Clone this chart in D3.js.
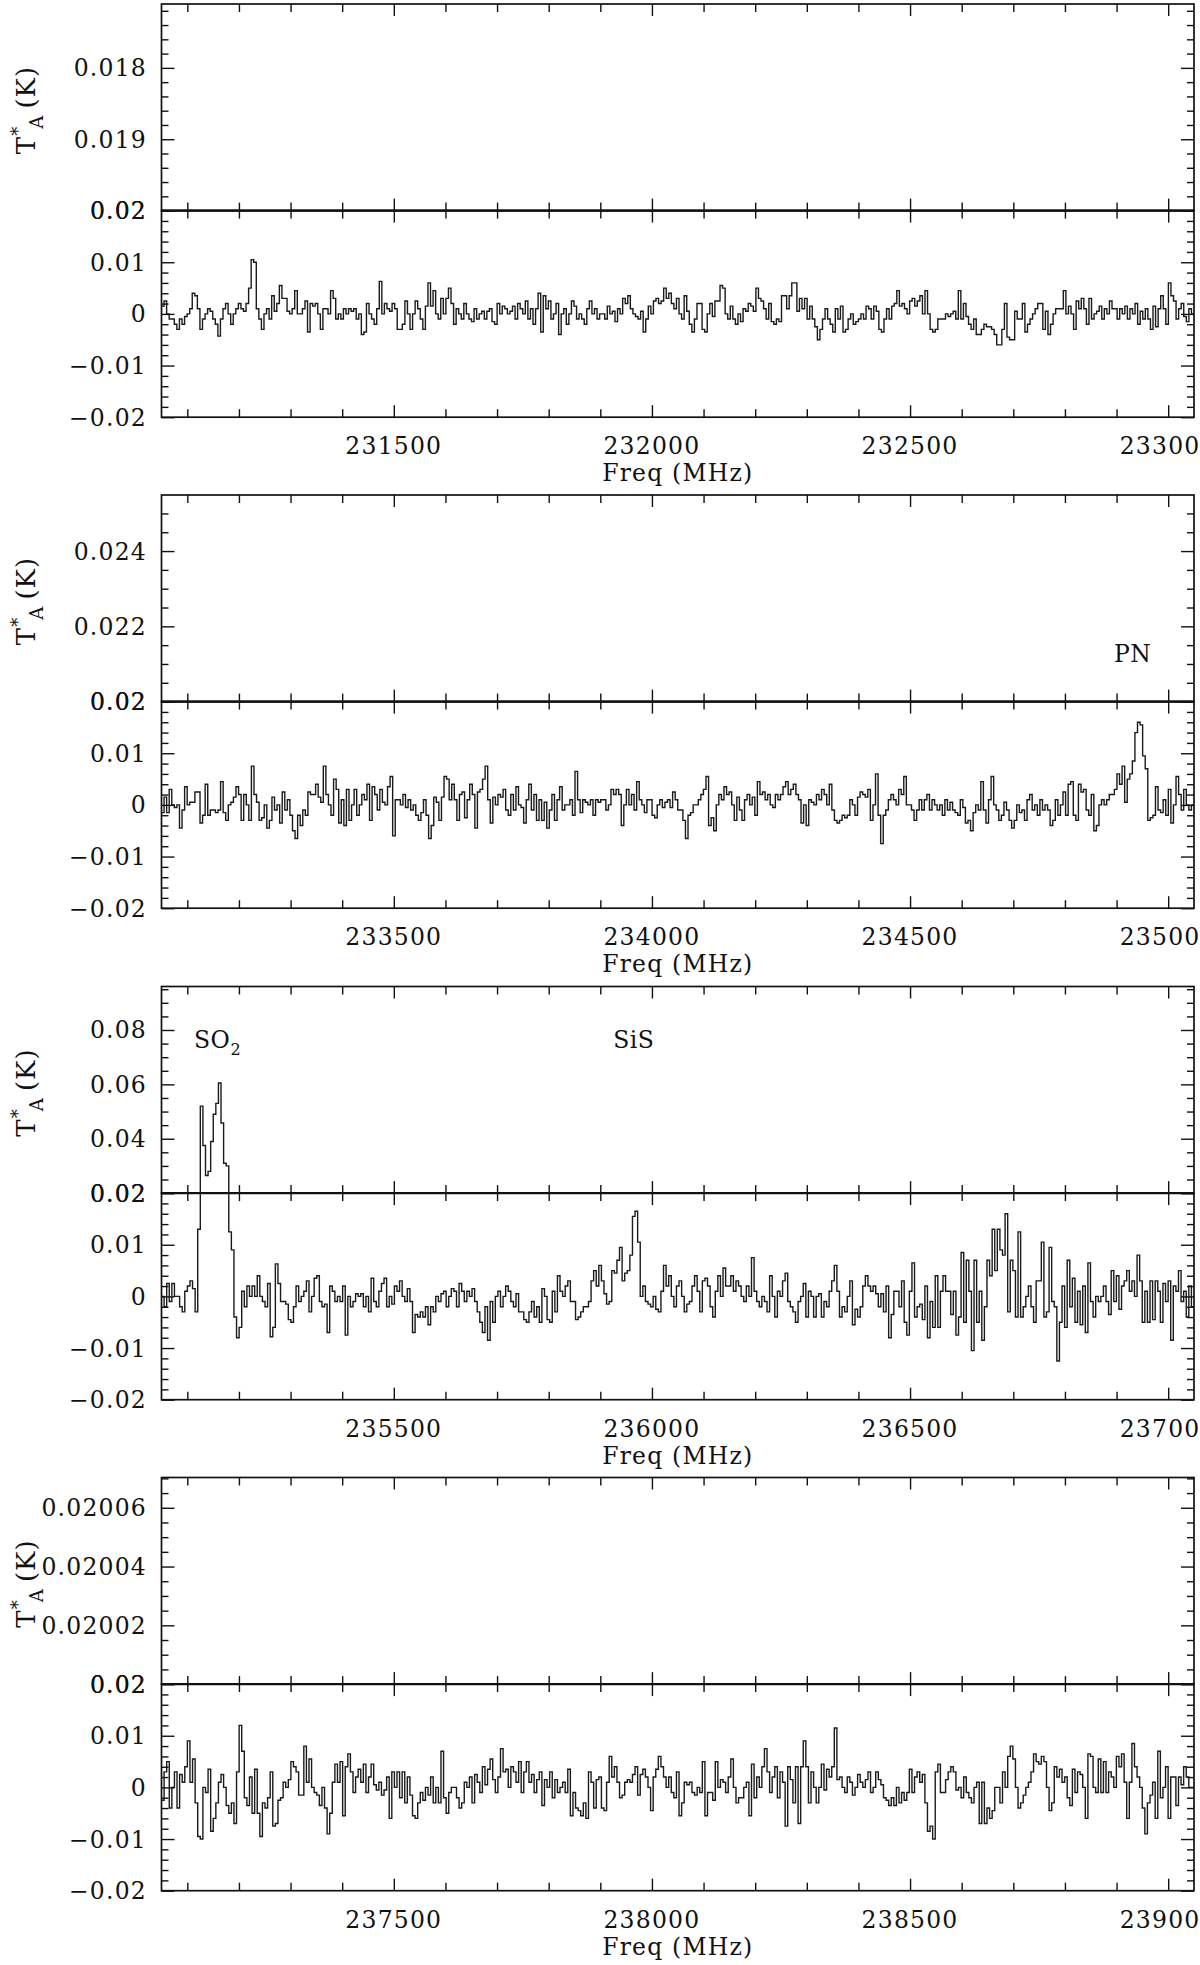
<!DOCTYPE html>
<html><head><meta charset="utf-8">
<script src="https://cdn.jsdelivr.net/npm/d3@7"></script>
<style>body{margin:0;background:#fff}svg{display:block}</style>
</head><body>
<svg id="c" width="1200" height="1965"></svg>
<script>
// ---------- DATA (antenna temperature in mK, equal-width channels across each band) ----------
const freqStart = [231050, 233050, 235050, 237050];   // MHz, left edge of each band
const freqSpan = 2000;                                  // MHz per band

const spec1 = [1.5,2.5,0,-1,-1,-2,-3,-1,-2,-0.5,0,1,4,3.5,1,-3,-1,0,1,0.5,-1,-2,-4.3,-1,1,2,0,
-2,0,1,2,1,0.5,2,5,10.5,10,1,-1,-3,0,1,-1,3.5,0.5,2,5.5,3,3,0.5,0,1,4.5,0,0,1,2.5,-3.5,2,1.5,
2,0,-3,1,1,0,4.5,3,-1,0,-1,1,0,1,0.5,1,-1,0,-4,-3.5,2,0,-1,-2,1,6.3,0,2,1,0.5,2,1,-3,-3,-2,2.5,0,
-3,0,2.5,1,-1,-3,1.5,6,1.5,4.5,0,-1,3,0,3,5,2,-2,1,0,-1,2,0,-1,-1.5,1,-1,0,0.5,-1,
0.5,1,-1.5,-2,2,0,1.5,1,0,0.5,1.5,-1,2,1,0,2.5,-1,1,-2,1,4,-3.5,3.5,1,2.5,-1,0,2,-4,0,
1,-2,0,2.5,1.5,-1,0,-1,-2,1,2.5,0,1,-1,0,
0,-1,1.5,0,0.5,-1.5,1,0,3,2,3.5,1,0,-0.5,-1,0.5,-3.5,-1,1.5,0,2.5,3,2,2.5,5,3,4,2,1,3,
0,-1,3.5,0.5,-2,-3.5,-1,2,2,-3,-3.5,0,2,-0.5,2.5,2.5,5.5,5,0,-1,1.5,-1,-2,0,-1.5,1,0.5,2,1.5,0.5,
5,3,2.5,1,-1,2,-1.5,-2,-1,-1.5,3.5,3.5,1,3.5,6,6,0.5,3,1,3,-1,1.5,-1,-2.5,-5,
-3,-1,1,-1,-2,-3.5,1,-1,1.5,-3.5,-3,-1,0,-2,-1.5,-1,0,-1,1.5,1,-1,1.5,0.5,-3,-3.5,-1,1,-1,1.5,2,
4.5,1.5,2,1,0,2.5,3,1.5,2.5,3.5,0,4.5,0,-3,-3.5,-3,-1,-1,-1,0,-0.5,0,0.5,-1,4.5,-1,2,-0.5,-2,-3,-1,
-4,-4,-3,-2,-2.5,-2.5,-3,-4,-6,-6,-3,2,-4.5,-5,-5,0.5,-1,-1,2,-3.5,-2,-1,0,1,2,2,-3,0.5,-4,-2,0,1,
1,1,4.5,0,1.5,0,-3,2.5,1,3,1,-2,3,-1,0,0.5,1.5,-1,1,0,2.5,1,1,-1,1,0,1.5,-1,1,0,2,-2,0.5,
-1,1,-1,-3,1.5,-2.5,1,3.5,1,-2,6,3.5,2.5,-1,1,2,-0.5,-1.5,1,0];

const spec2 = [-1.5,1.5,-1.5,3,0,-0.5,0,-4.5,-1,3.5,0,0.5,0.5,2.5,2.5,-3.5,-2,4,-2,-1,-1,-1.5,-1,4.5,
-1.5,-3,0,0.5,1.5,3.5,2,-3,2,0,-3,7.5,2,0.5,-3,-2.5,0,-4.5,-3,1.5,-1,0,-3.5,2.5,-1,1,-2,-5,-6.5,-2,
-4,-1,-2,2.5,2,2,4,1.5,0.5,7.5,2,0,-2,5,3,-3.5,1,-4,3,-3,0,3,-2,0,2,1,4,-3,3.5,2,-1,3,0.5,0,3.5,5.5,
-6,1,1,0,2,-0.5,1,-1,0,-2,-3,-1.5,1,-2,-6.5,-4,1.5,0.5,-3,1.5,5.5,5,1,4,1,-3,2,2.5,-2.5,1,
4,2,-4.5,2.5,3,5,7.5,1,-3.5,1.5,0,2,1.5,3,-1,-2,2,-1,3.5,0,-0.5,-3.5,1,4,-1,2,-3,1,-3,0.5,
-4.5,-1,2,-3,1,3.5,-1,0,0,1,-2,6.5,1,-1.5,1,0.5,0,1,-2,1,0.5,1,
1,-1,0,3,2,3,2,-4,0,3,0,2,-1,4.5,1,0,-1.5,1,1,-2,-2.5,0,1,-0.5,0.5,1,-0.5,2.5,1,-1,
-1,-3,-6.5,-2,-1.5,0,0,1,2,3,5.5,-4,-2.5,-5,0,2,1,3.5,2,2.5,0,-3,1.5,-1,-3,1,2,0,1.5,
-2,4.5,2,2.5,1,2,0,-0.5,2,1,2,3.5,4.5,2,3,4,2,1,-3.5,0,-4,1,0.5,0,2,1,3,2,0,4,
-1,-3,-3.5,-3,-2,-2.5,-2,1,0,-2,1.5,2.5,2,1.5,3,-3,0,6,-2,-7.5,-2,-1,1,2,1,0,3,2,5.5,0,
0,-1,-3,-1,1,-1,1,2,-1,1,0,-1,0,-2,1,-1,0.5,-1,-1.5,-2,1,-0.5,-3.5,-3,-5,-1.5,0,-1,4.5,
-1,-3.5,1,5.5,0,-1,-3,-2,0.5,-1,-3,-4.5,-3,0,-1.5,-1,-3,1,2,-1,0,-2,1,-1,0,-1,-4,-3,1,-2,
0,2.5,-2,4,4.5,-2,-3,4,2.5,3,-1,-2,2,-5,-4,0,1,0,1,2,2,3,6,4,7.5,0.5,5,6,8.5,14,16,15.5,9.5,7,
-3,-2.5,-2,3.5,-1,-1.5,1,-2,3,-3.5,0,5.5,2,-1,3,0,-1,0];

const spec3 = [0,-2,2.5,-1,2.5,0,0,-2,-3,1,2,3,1.5,-3,13,52,37.5,26.5,28,39,49,53,60.5,45.8,31,30,12.5,9,-4,-8,
-6,1,-2,2,0,2,0,4,0,-1,-2,2.5,-7.8,-6,6.3,2.5,-1,-1,-1.5,-4.5,-5,-2,2,-1,0,1,3,-3,0,3.5,4,
-1,-2,-1.5,-7,2,1,-1,0,-1,2,-7.5,0,-2,-1,0.5,0,0.5,-2,0,-3,3.5,-1,-2,1,2.5,3.5,-2,0,-1.5,2,
1,3,0,-1,1.5,-1,-7,-3.5,-4,-3,-4,-2,-5.5,-2,-3,0,-1,0.5,1,-2,0,1.5,1,-2,2.5,1,-1,1,0,1.5,
-1,-3,-5,-7,-2,-8.5,-1,-5,0,1,-2,0,2,1,-1,-2,0.5,-3,-3,-4.5,-5,-3,-1,-4,-2,-5,1.5,0,-4.5,-5,
1,-3,4,1,0,2,3,-1,-1,-4.5,-4,-3,-2,-2,-1,3,5,
2,6,3,0.5,-1.5,-1,5,4.5,7,9.5,3,4.5,5,8,15.5,16.5,10.5,0,2,-1,-1.5,-2,0,-2.5,-3,1,6,2,4,0,
-2,2,3,0,-3,-1.5,-1,2,4,1,-3,3,3.5,2,-2,-4,1,4,0,5.5,2,2,4,1,3,2,0,-1,2,0,7.5,1,-1,
-2,0,-1,-3,4,0,-4,1,0,3,4.5,-1,-2,-3,-5,-1,0,2.5,-4,1,0,-4,0,0.5,-4,-1,-2,1,3,6,
1,-4,-2,-3,0,3,-5.5,-2.5,-4,-2,2,4,2,1,2,0.5,-2,0.5,-3,2,-8,-3.5,1,1,-2,3,-5,-7.5,1,
6.5,-4,-2,-1.5,-4.5,2,-8,-1,-6,4,-6,1,4,1,1,-3.5,1,-7.5,-4,8.5,-5,7,1,-10.5,7,-5,1,-8.5,-2,7,
4,13,5,13,9,8,16,-3,7,5,-4,12.5,-4,-2,0,2,-2,-5,3,3,10.5,-4,-3,9.5,-1,-2,-12.5,-5,2,-6,
7,-2,3.5,-5,1,-5.5,2,-7,6.5,-1,-4,0,-1,0,2,-1,-3.5,5,-1,4,-2.5,2,3,5,1,3,0,8,3,
-5,1,-5,3,-4.5,3,1,-5,2.5,-1,3,-8.5,2,1,5,-1,1,-4,2,-2];

const spec4 = [-2.5,3,5,-4,0,3,-4,2.5,1,4,9,1,5.5,-3,-9.5,-10,0,-1,3.5,-8.5,-6,-3,1,2.5,0,-3.5,-5,
-3,-7,3,12,7,-2,-3.5,2,-5,3.5,-5,-9.5,-3,-4,-2,3,-7.5,-7,-2.5,-2,1,0,1.5,5,4,3,-1.5,-1.5,8,
1,5.5,0,-1,-1.5,-3.5,0,-4,-9,-5,1,4.5,1,5,-5.5,4,6.5,3,-1,2,3.5,1,4.5,-1,2,4.5,0.5,-0.5,1,-1.5,
-0.5,2,-6,3,0,3,-2,3,-3,2,-1.5,-5.5,-6,-3,-1,-2.5,0,-1.5,2,-3,0,-3,7,-2,-5,-1,0,0,-2,-4,
-3,1,0,2,-3,2.5,1,-1,4,0.5,3.5,5.5,1.5,-1,2,7.5,3,3.5,0,4,3,1,5,-1,3,5,1,2.5,-1,1.5,
3,-3.5,1.5,0,3,-2,1.5,-1,0,1,-1,3.5,-5.5,-1,-4,-4.5,-5.5,-3,-6,3,1,-4,1.5,
2,-4,-4.5,1,6,2,4,1,-2,-1.5,1,1.5,1,2.5,4,-1.5,2.5,3.5,2,0,-4.5,2,3.5,6,4,2,0,2,-1,-2,
3,-5.5,-3,1,0.5,1,-1,-1.5,0,-1,5,-5.5,-1,-1,-2.5,5,0,1.5,1,-1,2,5.5,0,-3,-2,-2,0,1,-5.5,
4.5,-2,2,0,4,7.5,3,-1,2,4,-2,3,1,-7.5,4,1.5,-3,4,-7,4,9,4,-3,3,0,-3,0,4.5,-0.5,3.5,
2,4,11.5,1.5,2,0,-1,2,1,-1.5,0,2.5,1,0,1.5,3,-1,0,3,1.5,0.5,-2,-2.5,-3.5,-2,-3.5,0,-3,-1,-2.5,
-1,3.5,-1,2,3,1,2.5,-3,-8.5,-7.5,-10,3,4.5,-1,-1,1.5,3,4,3,-0.5,0,-2,2,-1,-2,-3,0,
1,-7,1,-7,-4,-6,-4.5,0,0,-3,3,0,6,8,5.5,0,-4,-3,-1.5,0,1,3,6.5,5,4.5,6,5,0,-4.5,
-3,4,2,3.5,1,2,-2,-3.5,3.5,-1,3,2.5,0,-6,6.5,6,0,-1,5.5,-1,5,-1,3,2,0,6,4,6.5,1,
-6,1,8.5,4,2,0,-4,-9,-3,-1.5,1,-6,7,-2,0,4,-6,2,2,-3.5,2,0.5,4,2,0,0];

const spectra = [spec1, spec2, spec3, spec4];

// axis tick values / labels
const xMajor = [[231500,232000,232500,233000],[233500,234000,234500,235000],
                [235500,236000,236500,237000],[237500,238000,238500,239000]];
const xMajorLabels = [["231500","232000","232500","233000"],["233500","234000","234500","235000"],
                      ["235500","236000","236500","237000"],["237500","238000","238500","239000"]];
const xMinorStep = 100;
const upperTopValue = [0.017105, 0.02549, 0.096, 0.0200703];   // value at top of upper frame
const upperMajor = [[0.018,0.019,0.02],[0.02,0.022,0.024],[0.02,0.04,0.06,0.08],[0.02,0.02002,0.02004,0.02006]];
const upperLabels = [["0.018","0.019","0.02"],["0.02","0.022","0.024"],["0.02","0.04","0.06","0.08"],["0.02","0.02002","0.02004","0.02006"]];
const upperMinorStep = [0.0002, 0.0005, 0.005, 0.000005];
const lowerMajor = [-0.02,-0.01,0,0.01,0.02];
const lowerLabels = ["\u22120.02","\u22120.01","0","0.01","0.02"];
const lowerMinorStep = 0.002;

// line identifications: [panel, label, subscript, freq MHz, T (K)]
const lineLabels = [
  [1, "PN", "", 234895, 0.02105],
  [2, "SO", "2", 235113, 0.0732],
  [2, "SiS", "", 235925, 0.0732]
];

// ---------- DRAWING ----------
const svg = d3.select("#c");
const L = 161.5, R = 1194, subH = 206.6;
const tops = [4, 495, 986.5, 1477.5];
const FONT = "'DejaVu Serif', serif";
const FS = 23.5;
const defs = svg.append("defs");

function ticksBetween(lo, hi, step){
  const a = Math.ceil(lo/step - 1e-6), b = Math.floor(hi/step + 1e-6);
  return d3.range(a, b+1).map(k => +(k*step).toPrecision(10));
}

spectra.forEach((vals, i) => {
  const t = tops[i], mid = t + subH, bot = t + 2*subH;
  const f0 = freqStart[i], f1 = f0 + freqSpan;
  const x = d3.scaleLinear().domain([f0, f1]).range([L, R]);
  const yU = d3.scaleLinear().domain([0.02, upperTopValue[i]]).range([mid, t]);
  const yL = d3.scaleLinear().domain([-0.02, 0.02]).range([bot, mid]);
  const g = svg.append("g");

  // spectrum (histogram), drawn in both frames and clipped
  const w = freqSpan / vals.length;
  const pts = vals.map((v, k) => [f0 + k*w, v/1000]);
  pts.push([f1, vals[vals.length-1]/1000]);
  [[yL, mid, bot], [yU, t, mid]].forEach(([ys, y0, y1], j) => {
    const id = `clip${i}_${j}`;
    defs.append("clipPath").attr("id", id).append("rect")
      .attr("x", L).attr("y", y0).attr("width", R-L).attr("height", y1-y0);
    g.append("path").datum(pts)
      .attr("clip-path", `url(#${id})`)
      .attr("fill", "none").attr("stroke", "#1a1a1a").attr("stroke-width", 1.4)
      .attr("d", d3.line().x(d => x(d[0])).y(d => ys(d[1])).curve(d3.curveStepAfter));
  });

  // axes: inward ticks on all four sides of both frames
  const xMin = ticksBetween(f0, f1, xMinorStep).filter(v => !xMajor[i].includes(v));
  const frames = [
    {ys: yU, y0: t, y1: mid, major: upperMajor[i],
     minor: ticksBetween(Math.min(0.02, upperTopValue[i]), Math.max(0.02, upperTopValue[i]), upperMinorStep[i])},
    {ys: yL, y0: mid, y1: bot, major: lowerMajor, minor: ticksBetween(-0.02, 0.02, lowerMinorStep)}
  ];
  frames.forEach(fr => {
    const ax = (gen, tx, ty) => {
      const a = g.append("g").attr("transform", `translate(${tx},${ty})`).call(gen);
      a.select(".domain").remove();
      a.selectAll("line").attr("stroke", "#111").attr("stroke-width", 1.4);
    };
    ax(d3.axisBottom(x).tickValues(xMajor[i]).tickSize(-12).tickFormat(""), 0, fr.y1);
    ax(d3.axisBottom(x).tickValues(xMin).tickSize(-8).tickFormat(""), 0, fr.y1);
    ax(d3.axisTop(x).tickValues(xMajor[i]).tickSize(-12).tickFormat(""), 0, fr.y0);
    ax(d3.axisTop(x).tickValues(xMin).tickSize(-8).tickFormat(""), 0, fr.y0);
    const yMin = fr.minor.filter(v => !fr.major.some(m => Math.abs(m-v) < 1e-9));
    ax(d3.axisLeft(fr.ys).tickValues(fr.major).tickSize(-13).tickFormat(""), L, 0);
    ax(d3.axisLeft(fr.ys).tickValues(yMin).tickSize(-7).tickFormat(""), L, 0);
    ax(d3.axisRight(fr.ys).tickValues(fr.major).tickSize(-13).tickFormat(""), R, 0);
    ax(d3.axisRight(fr.ys).tickValues(yMin).tickSize(-7).tickFormat(""), R, 0);
    g.append("rect").attr("x", L).attr("y", fr.y0).attr("width", R-L).attr("height", fr.y1-fr.y0)
      .attr("fill", "none").attr("stroke", "#111").attr("stroke-width", 1.7);
  });
  g.append("line").attr("x1", L).attr("x2", R).attr("y1", mid).attr("y2", mid)
    .attr("stroke", "#111").attr("stroke-width", 2.4);

  // tick labels
  const txt = sel => sel.attr("font-family", FONT).attr("font-size", FS).attr("fill", "#111")
                        .attr("letter-spacing", "1.2px");
  upperMajor[i].forEach((v, k) => {
    g.append("text").call(txt).attr("x", 147).attr("y", yU(v)).attr("dy", "0.36em")
      .attr("text-anchor", "end").text(upperLabels[i][k]);
  });
  lowerMajor.forEach((v, k) => {
    g.append("text").call(txt).attr("x", 147).attr("y", yL(v)).attr("dy", "0.36em")
      .attr("text-anchor", "end").text(lowerLabels[k]);
  });
  xMajor[i].forEach((v, k) => {
    g.append("text").call(txt).attr("x", x(v)).attr("y", bot + 37)
      .attr("text-anchor", "middle").text(xMajorLabels[i][k]);
  });
  g.append("text").call(txt).attr("x", (L+R)/2).attr("y", bot + 64)
    .attr("text-anchor", "middle").text("Freq (MHz)");

  // y title  T*_A (K)
  const yt = g.append("text").attr("font-family", FONT).attr("font-size", 26).attr("fill", "#111")
    .attr("letter-spacing", "1px")
    .attr("transform", `translate(35,${t + 106}) rotate(-90)`).attr("text-anchor", "middle");
  yt.append("tspan").text("T");
  yt.append("tspan").attr("font-size", 18).attr("dy", -11).text("*");
  yt.append("tspan").attr("font-size", 18).attr("dy", 19).attr("dx", -3).text("A");
  yt.append("tspan").attr("dy", -8).text("\u2009(K)");

  // line identifications
  lineLabels.filter(d => d[0] === i).forEach(d => {
    const tx = g.append("text").call(txt).attr("letter-spacing", "0.5px")
      .attr("x", x(d[3])).attr("y", yU(d[4]));
    tx.append("tspan").text(d[1]);
    if (d[2]) tx.append("tspan").attr("font-size", 16).attr("dy", 7).text(d[2]);
  });
});
</script>
</body></html>
